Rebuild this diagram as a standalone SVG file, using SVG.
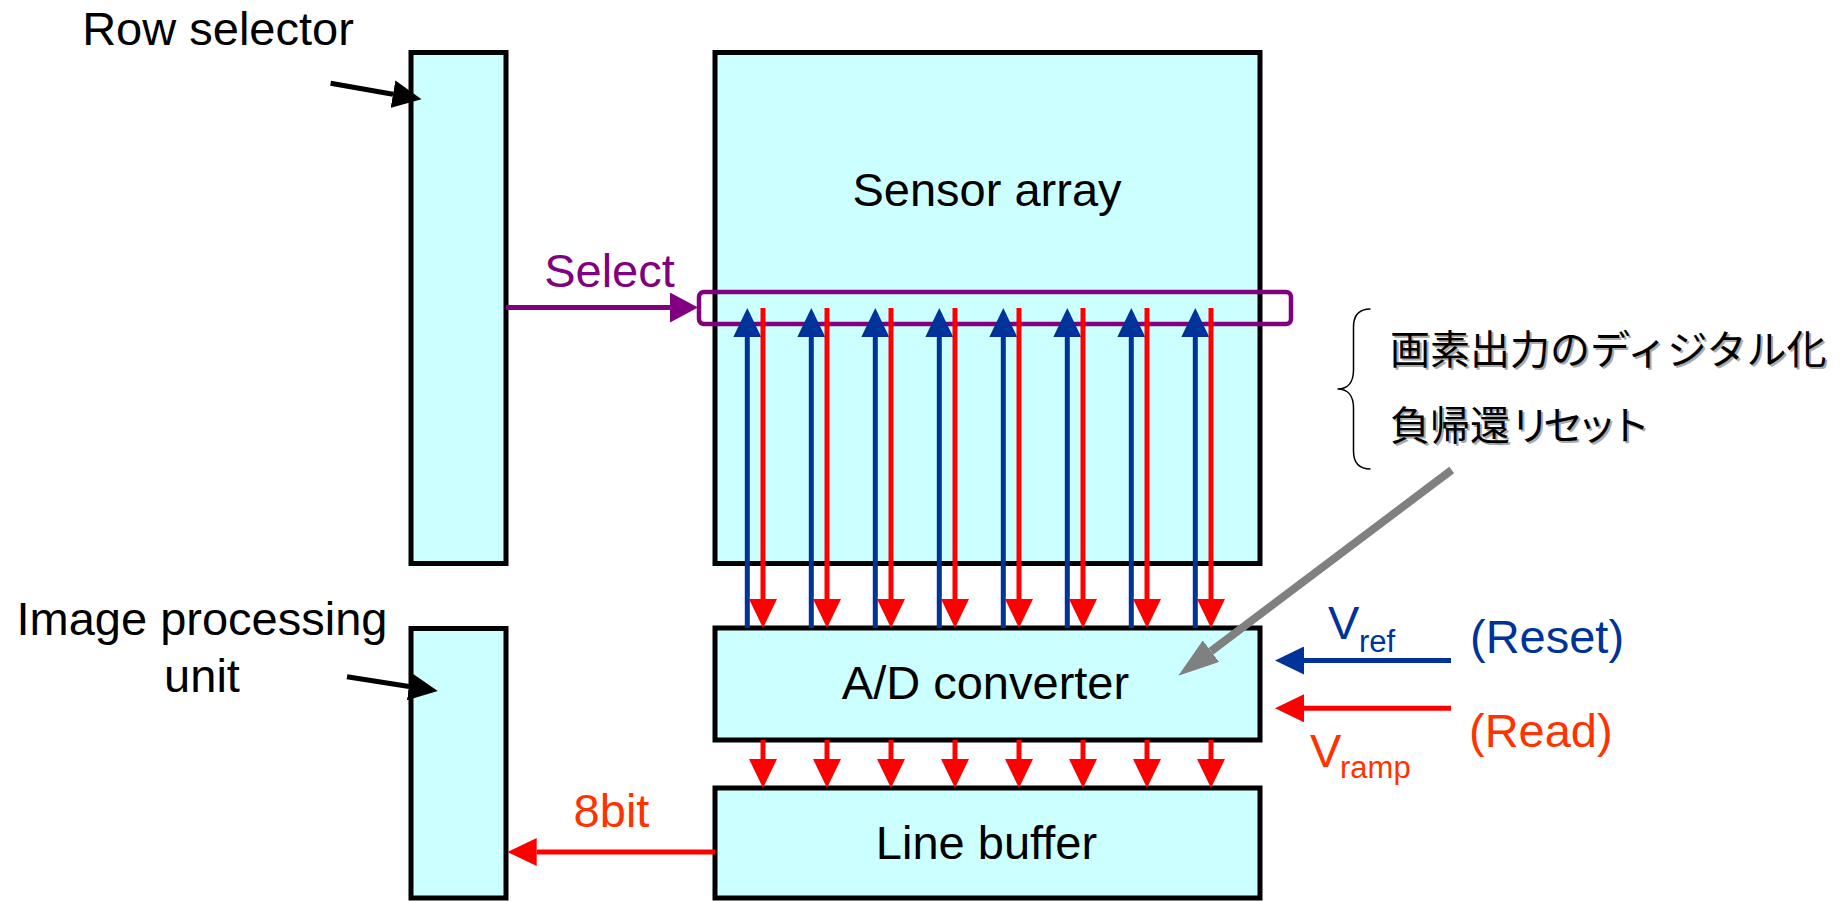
<svg xmlns="http://www.w3.org/2000/svg" width="1840" height="901" viewBox="0 0 1840 901">
<style>
.node{fill:#CCFFFF;stroke:#000;stroke-width:5}
.lbl{font-family:"Liberation Sans",Arial,Helvetica,sans-serif;font-size:47px;fill:#000}
.mid{text-anchor:middle}
.jp{font-family:"Noto Sans CJK JP","Noto Sans CJK SC",sans-serif;font-size:40px;fill:#000}
.jpsh{font-family:"Noto Sans CJK JP","Noto Sans CJK SC",sans-serif;font-size:40px;fill:#aaa}
.blue{fill:#003399}
.orange{fill:#FF3300}
.purple{fill:#800080}
.sub{font-size:31px}
.cb{stroke:#003399;stroke-width:5;fill:none}
.cr{stroke:#FF0000;stroke-width:5;fill:none}
.cp{stroke:#800080;stroke-width:5;fill:none}
.ck{stroke:#000;stroke-width:5;fill:none}
.cg{stroke:#808080;stroke-width:8;fill:none}
</style>
<defs>
<marker id="mb" markerUnits="userSpaceOnUse" markerWidth="29" markerHeight="28" refX="0" refY="14" orient="auto"><path d="M0,0 L29,14 L0,28 z" fill="#003399"/></marker>
<marker id="mr" markerUnits="userSpaceOnUse" markerWidth="29" markerHeight="28" refX="0" refY="14" orient="auto"><path d="M0,0 L29,14 L0,28 z" fill="#FF0000"/></marker>
<marker id="mp" markerUnits="userSpaceOnUse" markerWidth="28" markerHeight="30" refX="0" refY="15" orient="auto"><path d="M0,0 L28,15 L0,30 z" fill="#800080"/></marker>
<marker id="mk" markerUnits="userSpaceOnUse" markerWidth="29" markerHeight="28" refX="0" refY="14" orient="auto"><path d="M0,0 L29,14 L0,28 z" fill="#000"/></marker>
<marker id="mg" markerUnits="userSpaceOnUse" markerWidth="41" markerHeight="27" refX="0" refY="13.5" orient="auto"><path d="M0,0 L41,13.5 L0,27 z" fill="#808080"/></marker>
</defs>

<g id="row-selector">
<rect class="node" x="411" y="52.5" width="95" height="511"/>
<text class="lbl mid" x="218" y="45">Row selector</text>
</g>
<g id="sensor-array">
<rect class="node" x="715" y="52.5" width="545" height="511"/>
<text class="lbl mid" x="987" y="206">Sensor array</text>
</g>
<g id="selected-row">
<rect x="699" y="292" width="592" height="32" rx="5" ry="5" fill="none" stroke="#800080" stroke-width="4.5"/>
</g>
<g id="image-processing-unit">
<rect class="node" x="411" y="628.5" width="95" height="269.5"/>
<text class="lbl mid" x="202" y="634.5">Image processing</text>
<text class="lbl mid" x="202" y="691.5">unit</text>
</g>
<g id="ad-converter">
<rect class="node" x="715" y="628" width="545" height="112"/>
<text class="lbl mid" x="985.5" y="699">A/D converter</text>
</g>
<g id="line-buffer">
<rect class="node" x="715" y="788" width="545" height="110"/>
<text class="lbl mid" x="986.5" y="859">Line buffer</text>
</g>
<g id="note">
<path d="M1370.5,309 C1359,309 1353.5,315 1353.5,327 L1353.5,370 C1353.5,382 1348,389 1337.5,389 C1348,389 1353.5,396 1353.5,408 L1353.5,451 C1353.5,463 1359,469 1370.5,469" fill="none" stroke="#000" stroke-width="1.5"/>
<text class="jpsh" x="1392" y="366">画素出力のディジタル化</text>
<text class="jp" x="1390" y="364">画素出力のディジタル化</text>
<text class="jpsh" x="1392" y="442">負帰還<tspan textLength="140" lengthAdjust="spacing">リセット</tspan></text>
<text class="jp" x="1390" y="440">負帰還<tspan textLength="140" lengthAdjust="spacing">リセット</tspan></text>
</g>

<g id="connectors">
<line class="ck" x1="330.6" y1="83.3" x2="393" y2="94.2" marker-end="url(#mk)"/>
<line class="ck" x1="347" y1="676.7" x2="409.1" y2="686.5" marker-end="url(#mk)"/>
<line class="cp" x1="506" y1="307.5" x2="670" y2="307.5" marker-end="url(#mp)"/>
<g id="column-lines">
<line class="cb" x1="747.3" y1="628" x2="747.3" y2="337" marker-end="url(#mb)"/>
<line class="cb" x1="811.3" y1="628" x2="811.3" y2="337" marker-end="url(#mb)"/>
<line class="cb" x1="875.3" y1="628" x2="875.3" y2="337" marker-end="url(#mb)"/>
<line class="cb" x1="939.3" y1="628" x2="939.3" y2="337" marker-end="url(#mb)"/>
<line class="cb" x1="1003.3" y1="628" x2="1003.3" y2="337" marker-end="url(#mb)"/>
<line class="cb" x1="1067.3" y1="628" x2="1067.3" y2="337" marker-end="url(#mb)"/>
<line class="cb" x1="1131.3" y1="628" x2="1131.3" y2="337" marker-end="url(#mb)"/>
<line class="cb" x1="1195.3" y1="628" x2="1195.3" y2="337" marker-end="url(#mb)"/>
<line class="cr" x1="763" y1="308" x2="763" y2="599" marker-end="url(#mr)"/>
<line class="cr" x1="827" y1="308" x2="827" y2="599" marker-end="url(#mr)"/>
<line class="cr" x1="891" y1="308" x2="891" y2="599" marker-end="url(#mr)"/>
<line class="cr" x1="955" y1="308" x2="955" y2="599" marker-end="url(#mr)"/>
<line class="cr" x1="1019" y1="308" x2="1019" y2="599" marker-end="url(#mr)"/>
<line class="cr" x1="1083" y1="308" x2="1083" y2="599" marker-end="url(#mr)"/>
<line class="cr" x1="1147" y1="308" x2="1147" y2="599" marker-end="url(#mr)"/>
<line class="cr" x1="1211" y1="308" x2="1211" y2="599" marker-end="url(#mr)"/>
</g>
<g id="adc-to-buffer">
<line class="cr" x1="763" y1="740" x2="763" y2="759" marker-end="url(#mr)"/>
<line class="cr" x1="827" y1="740" x2="827" y2="759" marker-end="url(#mr)"/>
<line class="cr" x1="891" y1="740" x2="891" y2="759" marker-end="url(#mr)"/>
<line class="cr" x1="955" y1="740" x2="955" y2="759" marker-end="url(#mr)"/>
<line class="cr" x1="1019" y1="740" x2="1019" y2="759" marker-end="url(#mr)"/>
<line class="cr" x1="1083" y1="740" x2="1083" y2="759" marker-end="url(#mr)"/>
<line class="cr" x1="1147" y1="740" x2="1147" y2="759" marker-end="url(#mr)"/>
<line class="cr" x1="1211" y1="740" x2="1211" y2="759" marker-end="url(#mr)"/>
</g>
<line class="cr" x1="715" y1="852" x2="536.7" y2="852" marker-end="url(#mr)"/>
<line class="cb" x1="1451" y1="660.5" x2="1304" y2="660.5" marker-end="url(#mb)"/>
<line class="cr" x1="1451" y1="708.3" x2="1304" y2="708.3" marker-end="url(#mr)"/>
<line class="cg" x1="1451.7" y1="470" x2="1211" y2="651.2" marker-end="url(#mg)"/>
</g>

<g id="labels">
<text class="lbl mid purple" x="609.5" y="287">Select</text>
<text class="lbl mid orange" x="611.5" y="827">8bit</text>
<text class="lbl blue" x="1328" y="639.3">V<tspan class="sub" x="1359" y="652.3">ref</tspan></text>
<text class="lbl orange" x="1310" y="767.3">V<tspan class="sub" x="1340" y="778">ramp</tspan></text>
<text class="lbl blue" x="1470" y="653">(Reset)</text>
<text class="lbl orange" x="1469" y="746.5">(Read)</text>
</g>
</svg>
